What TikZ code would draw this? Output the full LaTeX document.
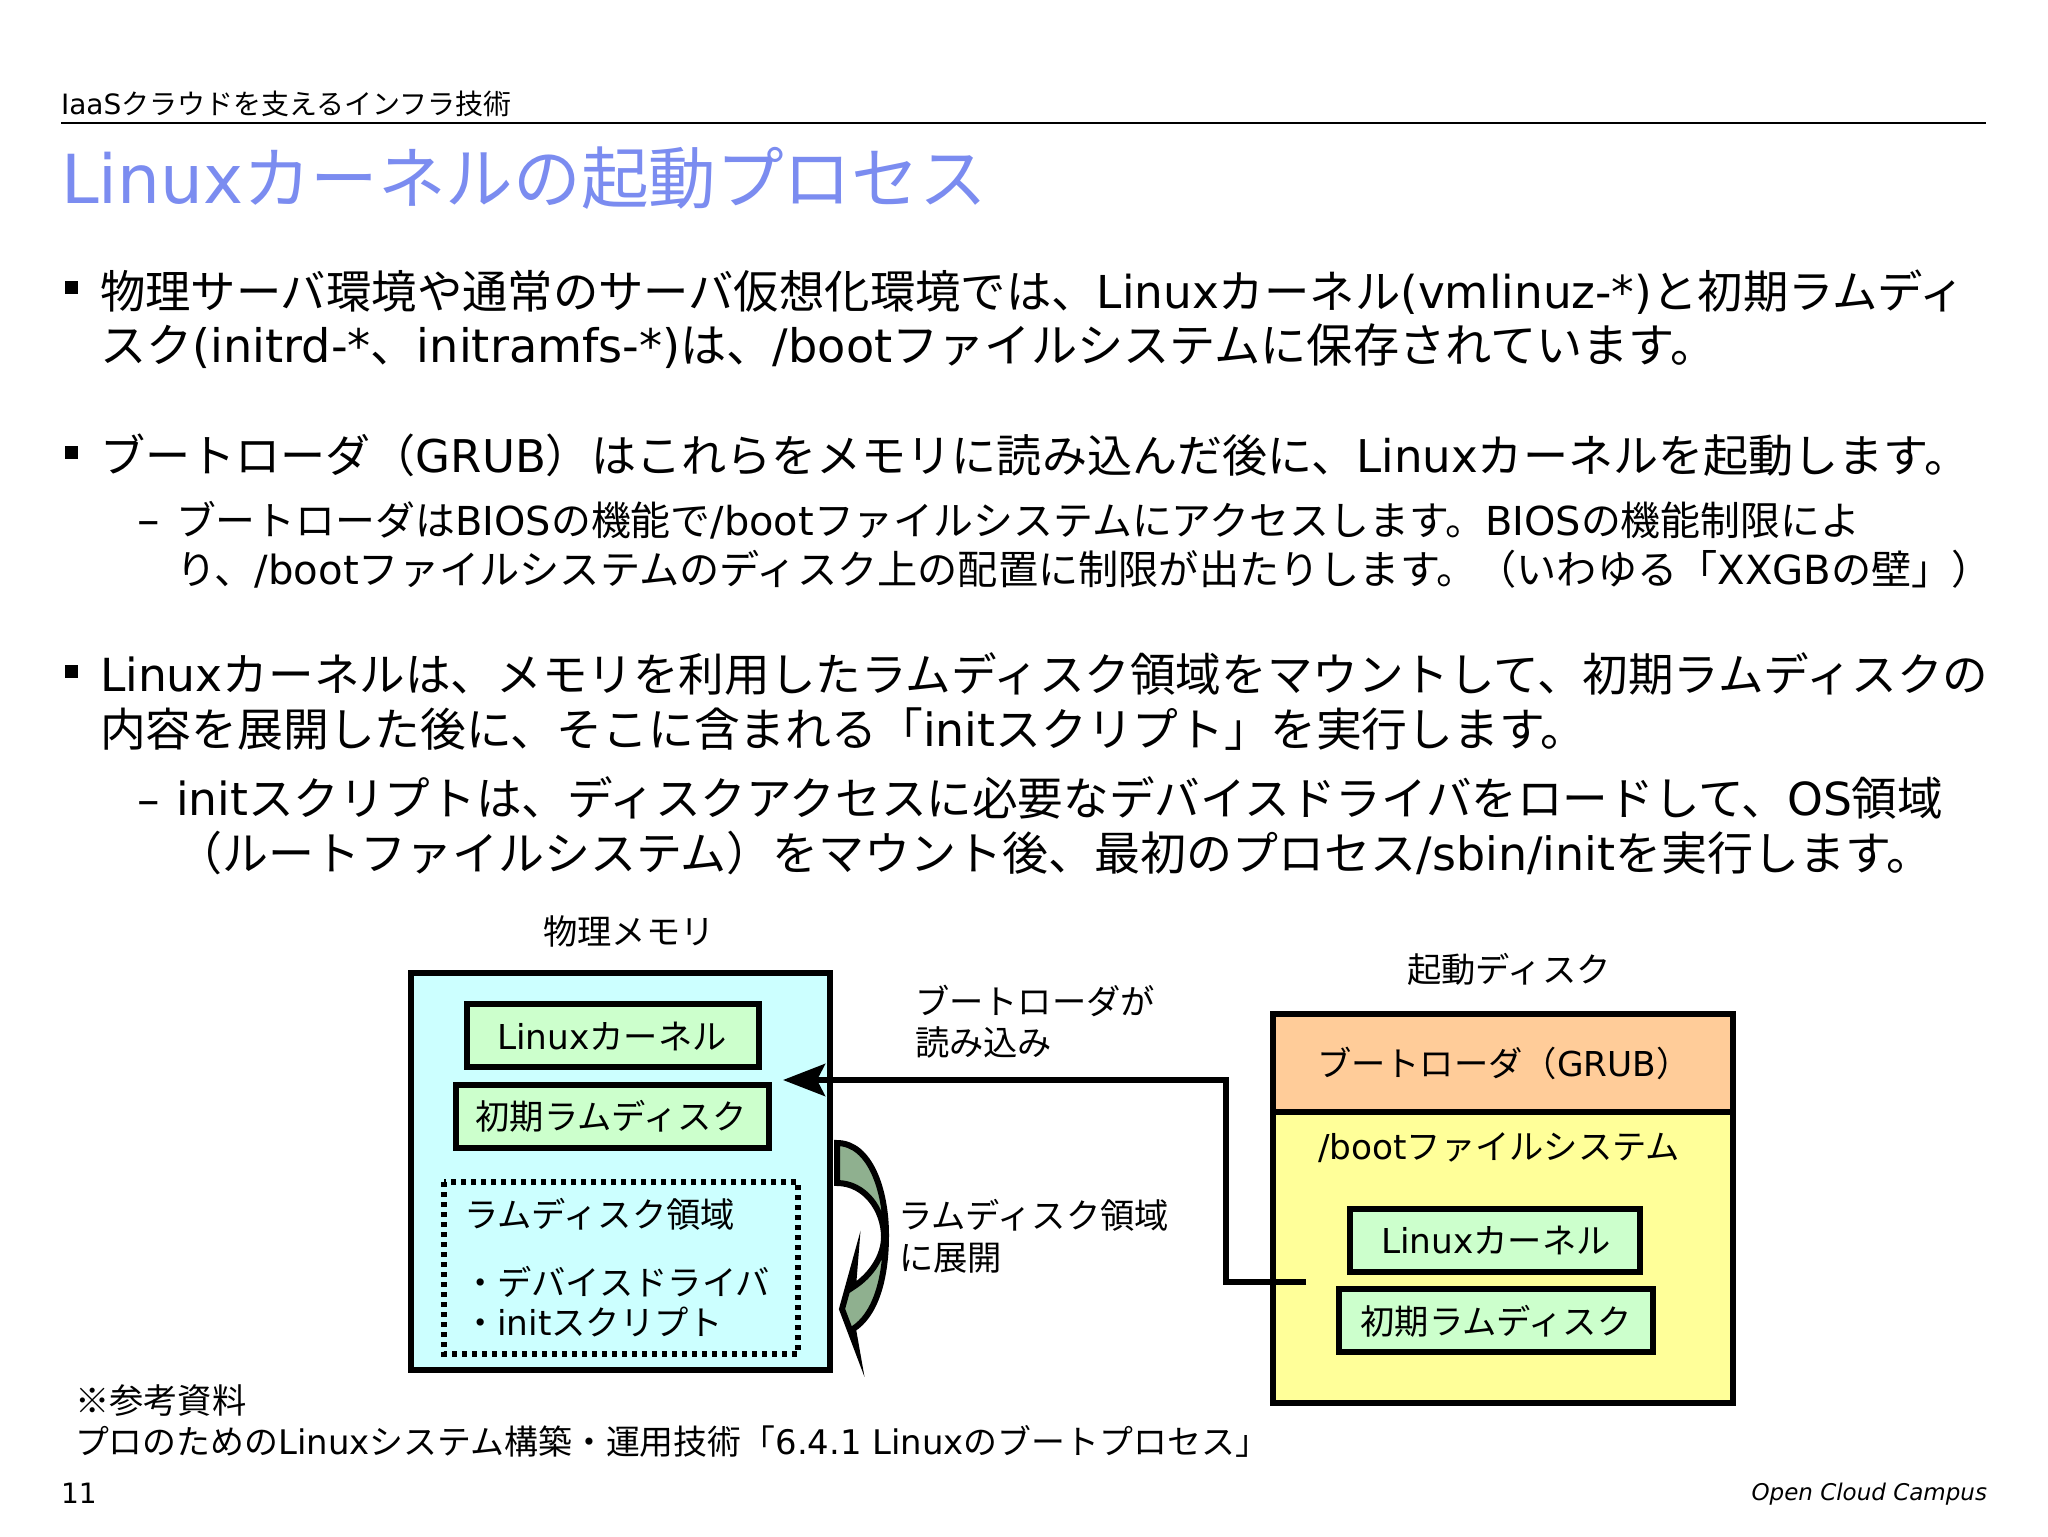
\documentclass[tikz,border=0pt]{standalone}
\usepackage{fontspec}
\usetikzlibrary{arrows.meta}
\setmainfont{DejaVu Sans}
\newfontfamily\jpf{Noto Sans CJK JP}
\newfontfamily\latf{DejaVu Sans}
\newXeTeXintercharclass\cjkclass
\newcount\cc
\cc="3000 \loop\ifnum\cc<"A000 \XeTeXcharclass\cc=\cjkclass \advance\cc 1 \repeat
\cc="FF00 \loop\ifnum\cc<"FFF0 \XeTeXcharclass\cc=\cjkclass \advance\cc 1 \repeat
\XeTeXcharclass"203B=\cjkclass
\XeTeXcharclass"30FB=\cjkclass
\XeTeXinterchartoks 0 \cjkclass={\jpf}
\XeTeXinterchartoks 4095 \cjkclass={\jpf}
\XeTeXinterchartoks \cjkclass 0={\latf}
\XeTeXinterchartokenstate=1
\newcommand\pxfont[1]{\fontsize{\fpeval{#1/2}pt}{\fpeval{#1/2}pt}\selectfont}
\definecolor{titleblue}{HTML}{7B8CF0}
\definecolor{membg}{HTML}{CCFFFF}
\definecolor{greenbg}{HTML}{CCFFCC}
\definecolor{orangebg}{HTML}{FFCC99}
\definecolor{yellowbg}{HTML}{FFFF99}
\definecolor{arrowgreen}{HTML}{8FB08F}
\tikzset{
 txt/.style={inner sep=0pt,outer sep=0pt,anchor=base west},
 body/.style={txt,font=\pxfont{#1}},
 lab/.style={txt,font=\pxfont{34.3}},
 clab/.style={lab,anchor=base},
 heavy/.style={draw=black,line width=3pt},
 bullet/.style={fill=black,inner sep=0pt,outer sep=0pt,minimum width=6.5pt,minimum height=6.5pt,anchor=center},
}
\begin{document}
\begin{tikzpicture}[x=0.5pt,y=-0.5pt]
\useasboundingbox[fill=white] (0,0) rectangle (2048,1536);
% header
\node[txt,font=\pxfont{28}] (hdr) at (61,114) {IaaSクラウドを支えるインフラ技術};
\coordinate (ruleL) at (61,123); \coordinate (ruleR) at (1986,123);
\draw[line width=1pt] (ruleL) -- (ruleR);
\node[txt,font=\pxfont{67.6},text=titleblue] (title) at (61,203) {Linuxカーネルの起動プロセス};
% bullets
\node[bullet] (b1) at (71,287) {};
\node[bullet] (b2) at (71,452) {};
\node[bullet] (b3) at (71,671) {};
% body
\node[body=45.35] (l1) at (100,308) {物理サーバ環境や通常のサーバ仮想化環境では、Linuxカーネル(vmlinuz-*)と初期ラムディ};
\node[body=46.2] (l2) at (100,362) {スク(initrd-*、initramfs-*)は、/bootファイルシステムに保存されています。};
\node[body=45.1] (l3) at (100,472) {ブートローダ（GRUB）はこれらをメモリに読み込んだ後に、Linuxカーネルを起動します。};
\node[body=45] (d1) at (137,535) {–};
\node[body=39.9] (s1) at (176,535) {ブートローダはBIOSの機能で/bootファイルシステムにアクセスします。BIOSの機能制限によ};
\node[body=40.2] (s2) at (176,584) {り、/bootファイルシステムのディスク上の配置に制限が出たりします。（いわゆる「XXGBの壁」）};
\node[body=45.6] (l4) at (100,691) {Linuxカーネルは、メモリを利用したラムディスク領域をマウントして、初期ラムディスクの};
\node[body=45.8] (l5) at (100,746) {内容を展開した後に、そこに含まれる「initスクリプト」を実行します。};
\node[body=45] (d2) at (137,815) {–};
\node[body=45.6] (s3) at (176,815) {initスクリプトは、ディスクアクセスに必要なデバイスドライバをロードして、OS領域};
\node[body=46] (s4) at (176,870) {（ルートファイルシステム）をマウント後、最初のプロセス/sbin/initを実行します。};
% memory
\node[clab] (memt) at (629,944) {物理メモリ};
\path[heavy,fill=membg] (411,973) rectangle (830,1370);
\path[heavy,fill=greenbg] (467,1004) rectangle (759,1067);
\path[heavy,fill=greenbg] (456,1085) rectangle (769,1148);
\draw[line width=3pt,dash pattern=on 2.5pt off 2.5pt] (444,1182) rectangle (798,1354);
\node[clab] (m1) at (612,1049) {Linuxカーネル};
\node[clab] (m2) at (611,1129) {初期ラムディスク};
\node[lab] (m3) at (464,1227) {ラムディスク領域};
\node[lab] (m4) at (463,1295) {・デバイスドライバ};
\node[lab] (m5) at (463,1335) {・initスクリプト};
% disk
\node[clab] (dskt) at (1509,982) {起動ディスク};
\path[heavy,fill=yellowbg] (1273,1014) rectangle (1733,1403);
\path[heavy,fill=orangebg] (1273,1014) rectangle (1733,1112);
\node[lab] (g) at (1317,1076) {ブートローダ（GRUB）};
\node[lab] (bfs) at (1318,1159) {/bootファイルシステム};
\path[heavy,fill=greenbg] (1350,1209) rectangle (1640,1272);
\path[heavy,fill=greenbg] (1339,1289) rectangle (1653,1352);
\node[clab] (k2) at (1496,1253) {Linuxカーネル};
\node[clab] (r2) at (1496,1334) {初期ラムディスク};
% arrow
\coordinate (src) at (1306,1282);
\coordinate (bend) at (1226,1282);
\coordinate (tip) at (783,1080);
\draw[line width=3pt,-{Stealth[length=21pt,width=16pt,inset=4pt]}] (src) -- (bend) |- (tip);
\node[lab] (a1) at (915,1014) {ブートローダが};
\node[lab] (a2) at (915,1055) {読み込み};
% curved arrow
\draw[line width=3pt,miter limit=25,fill=arrowgreen,line join=miter]
 (837,1143) .. controls (870,1143) and (886,1190) .. (886,1235)
 .. controls (886,1280) and (875,1315) .. (853,1329)
 -- (856,1346) -- (842,1309) -- (855,1262) -- (853,1287)
 .. controls (872,1275) and (884,1255) .. (884,1237)
 .. controls (884,1210) and (865,1183) .. (837,1183) -- cycle;
\node[lab] (c1) at (898,1228) {ラムディスク領域};
\node[lab] (c2) at (899,1270) {に展開};
% footer
\node[lab] (f1) at (75,1413) {※参考資料};
\node[lab,font=\pxfont{33.9}] (f2) at (75,1454) {プロのためのLinuxシステム構築・運用技術「6.4.1 Linuxのブートプロセス」};
\node[txt,font=\pxfont{28}] (pg) at (61,1503) {11};
\node[txt,anchor=base east,font=\pxfont{23}\itshape] (occ) at (1987,1500) {Open Cloud Campus};
\end{tikzpicture}
\end{document}
